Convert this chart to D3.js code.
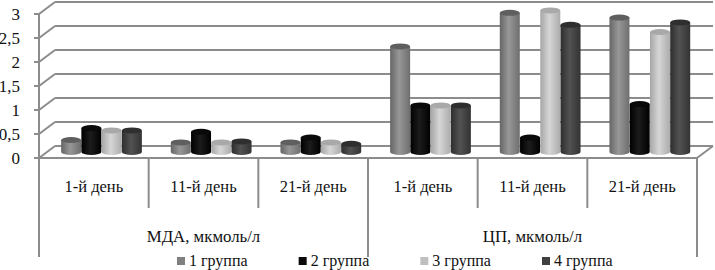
<!DOCTYPE html>
<html>
<head>
<meta charset="utf-8">
<script src="https://cdn.jsdelivr.net/npm/d3@7"></script>
<style>
html, body { margin: 0; padding: 0; background: #fff; }
svg { display: block; }
text { font-family: "Liberation Serif", serif; fill: #111; }
</style>
</head>
<body>
<div id="chart"></div>
<script>
var measures = ["МДА, мкмоль/л", "ЦП, мкмоль/л"];
var days = ["1-й день", "11-й день", "21-й день", "1-й день", "11-й день", "21-й день"];
var groups = ["1 группа", "2 группа", "3 группа", "4 группа"];
var tickValues = [0, 0.5, 1, 1.5, 2, 2.5, 3];

var group1 = [0.25, 0.2, 0.2, 2.2, 2.9, 2.8];
var group2 = [0.5, 0.42, 0.3, 0.97, 0.3, 1.0];
var group3 = [0.45, 0.2, 0.2, 0.97, 2.95, 2.5];
var group4 = [0.45, 0.22, 0.17, 0.97, 2.65, 2.7];
var series = [group1, group2, group3, group4];

var colors = [
    ["#666666", "#979797", "#6e6e6e"],
    ["#000000", "#1c1c1c", "#000000"],
    ["#a6a6a6", "#d6d6d6", "#acacac"],
    ["#2e2e2e", "#525252", "#333333"]
];
var topColors = ["#5f5f5f", "#0a0a0a", "#a9a9a9", "#2f2f2f"];
var legendColors = ["#808080", "#0a0a0a", "#bfbfbf", "#404040"];

var width = 715, height = 270;
var axisColor = "#8c8c8c";
var depthX = 16, depthY = 12;
var x0 = 39, x1 = 697;

var svg = d3.select("#chart").append("svg").attr("width", width).attr("height", height);

var x = d3.scaleBand().domain(d3.range(days.length)).range([x0, x1]);
var y = d3.scaleLinear().domain([0, 3]).range([158, 14]);
var inner = d3.scaleBand().domain(d3.range(groups.length)).range([0, 81]);

var defs = svg.append("defs");
colors.forEach(function(c, i) {
    var grad = defs.append("linearGradient").attr("id", "cyl" + i);
    grad.append("stop").attr("offset", "0%").attr("stop-color", c[0]);
    grad.append("stop").attr("offset", "45%").attr("stop-color", c[1]);
    grad.append("stop").attr("offset", "100%").attr("stop-color", c[2]);
});

// back wall gridlines + side wall
var grid = svg.append("g").attr("stroke", axisColor).attr("stroke-width", 2).attr("fill", "none");
tickValues.forEach(function(t) {
    grid.append("line")
        .attr("x1", x0).attr("y1", y(t))
        .attr("x2", x0 + depthX).attr("y2", y(t) - depthY);
    grid.append("line")
        .attr("x1", x0 + depthX).attr("y1", y(t) - depthY)
        .attr("x2", x1 + depthX).attr("y2", y(t) - depthY);
    grid.append("line")
        .attr("x1", x0 - 5).attr("y1", y(t))
        .attr("x2", x0).attr("y2", y(t));
});
grid.append("line").attr("x1", x0).attr("y1", y(3)).attr("x2", x0).attr("y2", y(0));
// floor, right edge
grid.append("line").attr("x1", x1).attr("y1", y(0)).attr("x2", x1 + depthX).attr("y2", y(0) - depthY);

// cylinders
var baseShiftX = 22, baseY = y(0) - 6, rx = 10, ry = 3;
series.forEach(function(vals, s) {
    var bars = svg.append("g").selectAll("g").data(vals).enter().append("g");
    var cx = function(d, i) { return x(i) + baseShiftX + inner(s) + inner.bandwidth() / 2; };
    var h = function(d) { return y(0) - y(d); };
    bars.append("path")
        .attr("d", function(d, i) {
            var c = cx(d, i), top = baseY - h(d);
            return "M" + (c - rx) + "," + top + "L" + (c - rx) + "," + baseY +
                "A" + rx + "," + ry + " 0 0 0 " + (c + rx) + "," + baseY +
                "L" + (c + rx) + "," + top + "Z";
        })
        .attr("fill", "url(#cyl" + s + ")");
    bars.append("ellipse")
        .attr("cx", cx)
        .attr("cy", function(d) { return baseY - h(d); })
        .attr("rx", rx).attr("ry", ry)
        .attr("fill", topColors[s]);
});

// front axis line and category dividers
var front = svg.append("g").attr("stroke", axisColor).attr("stroke-width", 2);
front.append("line").attr("x1", x0 - 5).attr("y1", y(0)).attr("x2", x1).attr("y2", y(0));
d3.range(days.length + 1).forEach(function(i) {
    var px = i < days.length ? x(i) : x1;
    var tall = i % 3 === 0;
    front.append("line")
        .attr("x1", px).attr("y1", y(0))
        .attr("x2", px).attr("y2", tall ? 257 : 208);
});

// tick labels
svg.append("g").selectAll("text").data(tickValues).enter().append("text")
    .attr("x", 20)
    .attr("y", function(d) { return y(d) + 6; })
    .attr("text-anchor", "end")
    .attr("font-size", 17)
    .text(function(d) { return String(d).replace(".", ","); });

// day labels
svg.append("g").selectAll("text").data(days).enter().append("text")
    .attr("x", function(d, i) { return x(i) + x.bandwidth() / 2; })
    .attr("y", 192)
    .attr("text-anchor", "middle")
    .attr("font-size", 16.5)
    .text(function(d) { return d; });

// measure labels
svg.append("g").selectAll("text").data(measures).enter().append("text")
    .attr("x", function(d, i) { return x(i * 3) + x.bandwidth() * 1.5; })
    .attr("y", 242)
    .attr("text-anchor", "middle")
    .attr("font-size", 16.8)
    .text(function(d) { return d; });

// legend
var legendX = d3.scalePoint().domain(groups).range([177, 542]);
var legend = svg.append("g").selectAll("g").data(groups).enter().append("g")
    .attr("transform", function(d) { return "translate(" + legendX(d) + ",0)"; });
legend.append("rect")
    .attr("x", 0).attr("y", 257).attr("width", 8).attr("height", 8)
    .attr("fill", function(d, i) { return legendColors[i]; });
legend.append("text")
    .attr("x", 12).attr("y", 266)
    .attr("font-size", 16)
    .text(function(d) { return d; });
</script>
</body>
</html>
